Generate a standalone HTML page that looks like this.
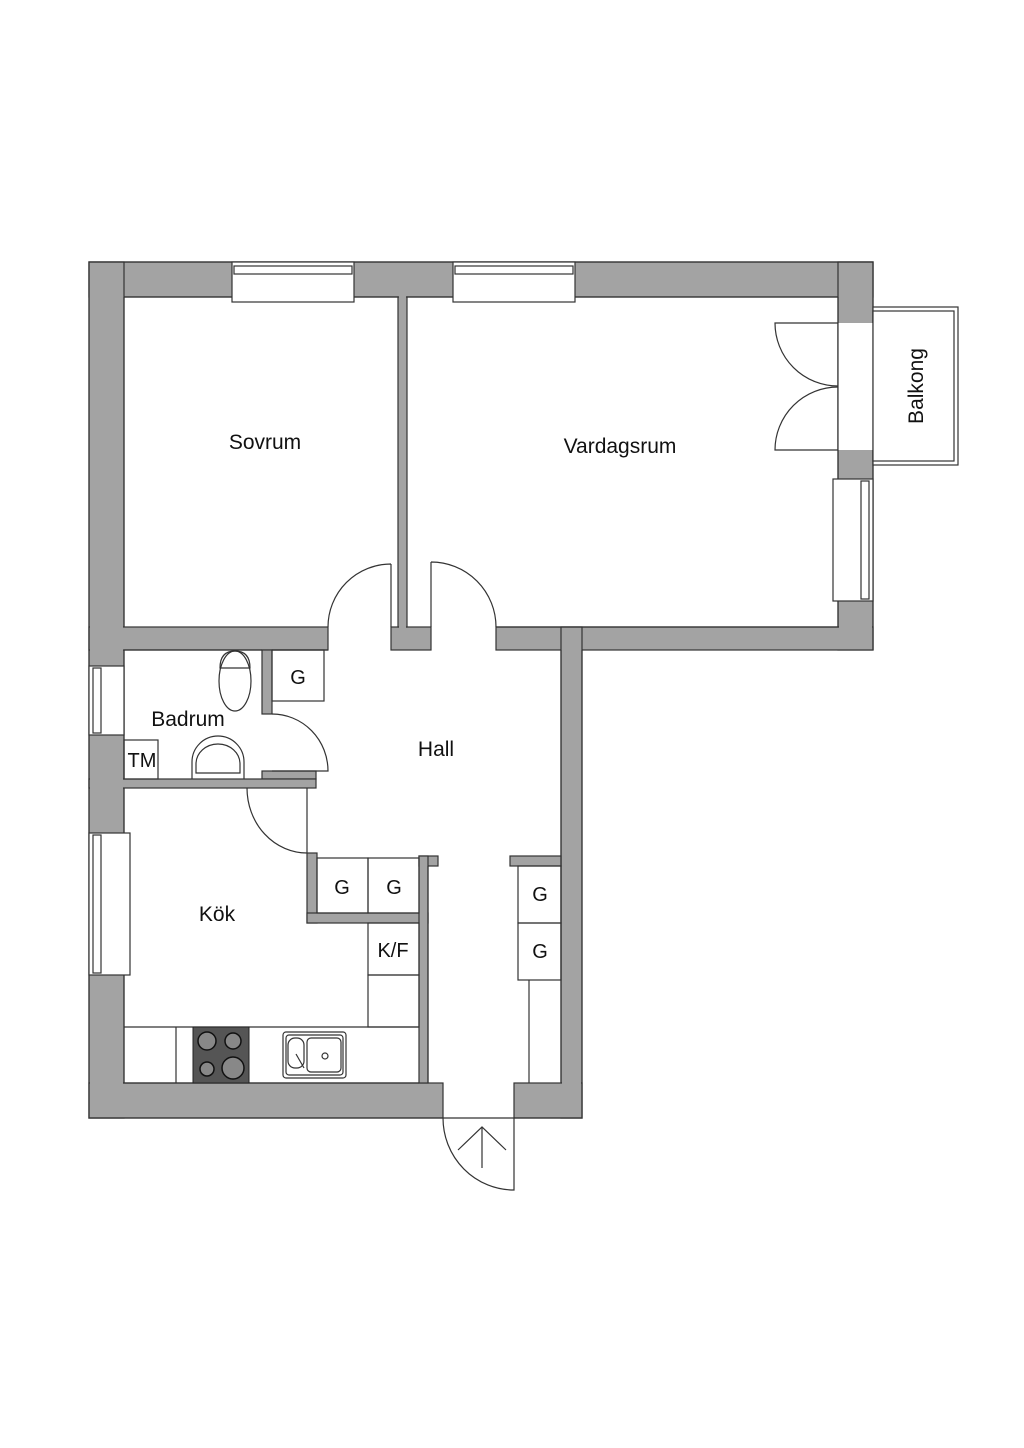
<!DOCTYPE html>
<html><head><meta charset="utf-8"><style>
html,body{margin:0;padding:0;background:#fff;width:1024px;height:1448px;overflow:hidden}
text{font-family:"Liberation Sans",sans-serif;fill:#111}
</style></head><body>
<svg width="1024" height="1448" viewBox="0 0 1024 1448" xmlns="http://www.w3.org/2000/svg">
<g fill="#a3a3a3" stroke="#333" stroke-width="1.2">
<!-- outer top wall -->
<rect x="89" y="262" width="784" height="35"/>
<!-- left wall -->
<rect x="89" y="262" width="35" height="856"/>
<!-- right wall of living -->
<rect x="838" y="262" width="35" height="388"/>
<!-- sovrum bottom -->
<rect x="89" y="627" width="239" height="23"/>
<rect x="391" y="627" width="40" height="23"/>
<rect x="496" y="627" width="377" height="23"/>
<!-- partition -->
<rect x="398" y="297" width="9" height="330"/>
<!-- hall right wall -->
<rect x="561" y="627" width="21" height="491"/>
<!-- bottom -->
<rect x="89" y="1083" width="354" height="35"/>
<rect x="514" y="1083" width="68" height="35"/>
<!-- bathroom walls -->
<rect x="262" y="650" width="10" height="64"/>
<rect x="262" y="771" width="54" height="8"/>
<rect x="89" y="779" width="227" height="9"/>
<!-- kitchen cabinet walls -->
<rect x="307" y="853" width="10" height="70"/>
<rect x="307" y="913" width="121" height="10"/>
<rect x="419" y="856" width="19" height="10"/>
<rect x="419" y="856" width="9" height="227"/>
<rect x="510" y="856" width="51" height="10"/>
</g>
<!-- clean overlaps -->
<g fill="#a3a3a3">
<rect x="90" y="263" width="33" height="386"/>
<rect x="90" y="628" width="33" height="21"/>
<rect x="90" y="649" width="33" height="468"/>
<rect x="839" y="263" width="33" height="386"/>
<rect x="90" y="1084" width="352" height="33"/>
<rect x="562" y="628" width="19" height="488"/>
<rect x="515" y="1084" width="66" height="33"/>
<rect x="399" y="296" width="7" height="333"/>
<rect x="308" y="914" width="110" height="8"/>
<rect x="420" y="857" width="7" height="225"/>
</g>
<g fill="none" stroke="#333" stroke-width="1.2">
<path d="M124 297 H398 M407 297 H838 M124 297 V627 M124 650 H262 M272 650 H328 M124 650 V779 M124 788 V1083 H419 M582 650 V1118 H514 M443 1118 H89 V262 H873 V650 M838 297 V627 H496 M561 650 V1083 M428 1083 V866"/>
</g>
<!-- windows top -->
<g fill="#fff" stroke="#333" stroke-width="1.2">
<rect x="232" y="262" width="122" height="40"/>
<rect x="453" y="262" width="122" height="40"/>
<rect x="234" y="266" width="118" height="8"/>
<rect x="455" y="266" width="118" height="8"/>
<!-- living right window -->
<rect x="833" y="479" width="40" height="122"/>
<rect x="861" y="481" width="8" height="118"/>
<!-- door opening balcony -->
<rect x="838" y="323" width="35" height="127" stroke="none"/>
<!-- bath window -->
<rect x="89" y="666" width="35" height="69"/>
<rect x="93" y="668" width="8" height="65"/>
<!-- kitchen window -->
<rect x="89" y="833" width="41" height="142"/>
<rect x="93" y="835" width="8" height="138"/>
<!-- balcony -->
<rect x="873" y="307" width="85" height="158"/>
<rect x="873" y="311" width="81" height="150"/>
</g>
<g fill="none" stroke="#333" stroke-width="1.2">
<line x1="838" y1="323" x2="838" y2="450"/>
<path d="M838 323 H775 A63 63 0 0 0 838 386 M838 450 H775 A63 63 0 0 1 838 387"/>
<!-- bedroom door -->
<path d="M391 564 V627 M391 564 A63 63 0 0 0 328 627"/>
<path d="M431 562 V627 M431 562 A65 65 0 0 1 496 627"/>
<!-- bath door -->
<path d="M272 714 A56 57 0 0 1 328 771 H272"/>
<!-- kitchen door -->
<path d="M307 788 V853 M247 788 A60 65 0 0 0 307 853"/>
<!-- entrance door -->
<path d="M443 1118 H514 V1190 A71 72 0 0 1 443 1118"/>
<path d="M482 1168 V1127 M458 1150 L482 1127 L506 1150"/>
<!-- cabinets -->
<rect x="272" y="650" width="52" height="51"/>
<rect x="124" y="740" width="34" height="39"/>
<rect x="317" y="858" width="51" height="55"/>
<rect x="368" y="858" width="51" height="55"/>
<rect x="368" y="923" width="51" height="52"/>
<rect x="368" y="975" width="51" height="52"/>
<rect x="518" y="866" width="43" height="57"/>
<rect x="518" y="923" width="43" height="57"/>
<path d="M529 980 V1083"/>
<path d="M124 1027 H419 M176 1027 V1083"/>
<!-- toilet -->
<ellipse cx="235" cy="681" rx="16" ry="30"/>
<path d="M220 668 Q220 651 235 651 Q250 651 250 668 Z"/>
<!-- sink -->
<path d="M192 779 V762 A26 26 0 0 1 244 762 V779"/>
<path d="M196 773 V764 A22 20 0 0 1 240 764 V773 Z"/>
<rect x="283" y="1032" width="63" height="46" rx="3"/>
<rect x="286" y="1035" width="57" height="40" rx="3"/>
<rect x="288" y="1038" width="16" height="30" rx="7"/>
<rect x="307" y="1038" width="34" height="34" rx="4"/>
<circle cx="325" cy="1056" r="3"/>
<path d="M296 1054 L304 1068"/>
</g>
<!-- stove -->
<rect x="193" y="1027" width="56" height="56" fill="#555" stroke="#222"/>
<g fill="#888" stroke="#111" stroke-width="1.5">
<circle cx="207" cy="1041" r="9"/><circle cx="233" cy="1041" r="8"/>
<circle cx="207" cy="1069" r="7"/><circle cx="233" cy="1068" r="11"/>
</g>
<g font-size="21" text-anchor="middle">
<text x="265" y="449">Sovrum</text>
<text x="620" y="453">Vardagsrum</text>
<text x="188" y="726">Badrum</text>
<text x="436" y="756">Hall</text>
<text x="217" y="921">Kök</text>
<text transform="translate(923,386) rotate(-90)">Balkong</text>
</g>
<g font-size="20" text-anchor="middle">
<text x="298" y="684">G</text>
<text x="142" y="767">TM</text>
<text x="342" y="894">G</text>
<text x="394" y="894">G</text>
<text x="393" y="957">K/F</text>
<text x="540" y="901">G</text>
<text x="540" y="958">G</text>
</g>
</svg>
</body></html>
